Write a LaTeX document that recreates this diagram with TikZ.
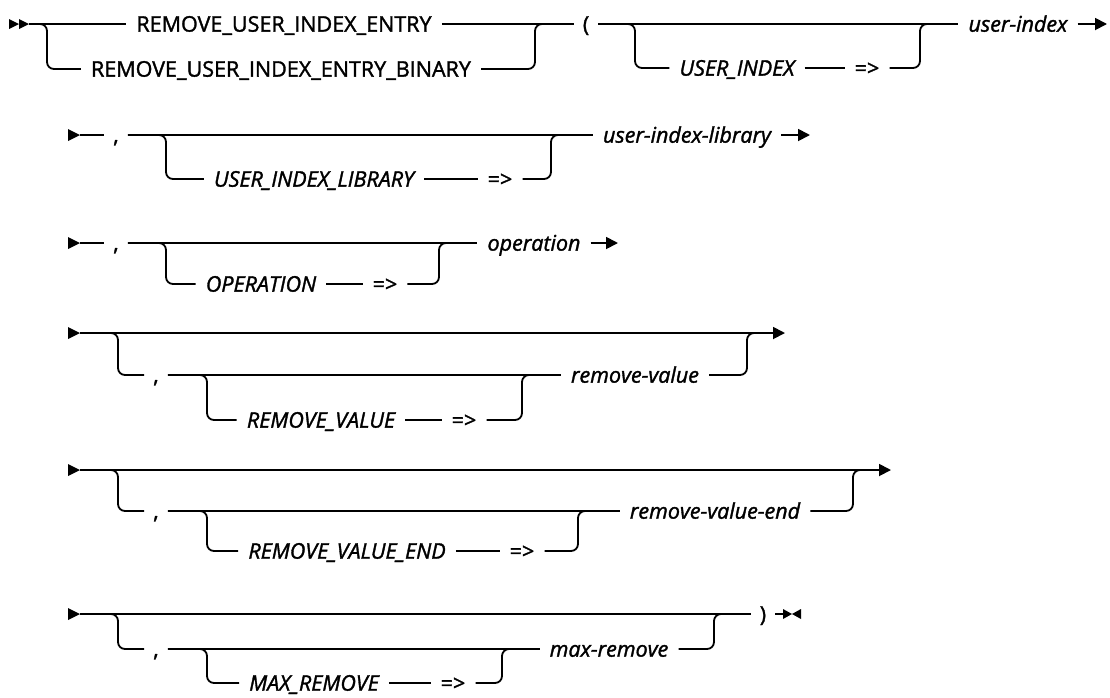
\documentclass[tikz,border=0pt]{standalone}
\usepackage{fontspec}
\setmainfont{Open Sans}[FakeBold=1.5]
\usetikzlibrary{arrows.meta}
\tikzset{
  ln/.style={line width=1.8pt, line join=round},
  rc/.style={rounded corners=7pt},
  kw/.style={inner xsep=10pt, inner ysep=0pt, text height=15.3pt, text depth=0pt,
    font=\fontsize{21.5}{25}\selectfont},
  var/.style={kw, font=\fontsize{21.5}{25}\selectfont\itshape},
  punct/.style={kw, inner xsep=9pt},
  tipr/.style={-{Triangle[length=12pt,width=12pt]}},
  mk/.style={fill=black, draw=none}
}
\begin{document}
\begin{tikzpicture}[x=1pt,y=-1pt]
\useasboundingbox (0,0) rectangle (1110,697);
% ---------- Row 1
\fill[mk] (9,19) -- (19,24) -- (9,29) -- cycle;
\fill[mk] (19,19) -- (29,24) -- (19,29) -- cycle;
\coordinate (s1) at (29,24);
\node[kw] (A) at (284,24) {REMOVE\_USER\_INDEX\_ENTRY};
\node[kw] (B) at (281,69) {REMOVE\_USER\_INDEX\_ENTRY\_BINARY};
\node[punct] (lp) at (586,24) {(};
\node[var] (UI) at (737,68) {USER\_INDEX};
\node[kw] (ar1) at (867,68) {=>};
\node[var] (ui) at (1018,24) {user-index};
\coordinate (e1) at (1107,24);
\draw[ln] (s1) -- (A);
\draw[ln,rc] (s1) -- (47,24) -- (47,69) -- (B);
\draw[ln,rc] (B) -- (535,69) -- (535,24) -- (545,24);
\draw[ln] (A) -- (lp);
\draw[ln] (lp) -- (ui);
\draw[ln,rc] (lp) -- (635,24) -- (635,68) -- (UI);
\draw[ln] (UI) -- (ar1);
\draw[ln,rc] (ar1) -- (920,68) -- (920,24) -- (931,24);
\draw[ln,tipr] (ui) -- (e1);
% ---------- Row 2
\fill[mk] (68,129) -- (80,135) -- (68,141) -- cycle;
\coordinate (s2) at (80,135);
\node[punct] (c2) at (116,135) {,};
\node[var] (UIL) at (314,179) {USER\_INDEX\_LIBRARY};
\node[kw] (ar2) at (500,179) {=>};
\node[var] (uil) at (687,135) {user-index-library};
\coordinate (e2) at (810,135);
\draw[ln] (s2) -- (c2);
\draw[ln] (c2) -- (uil);
\draw[ln,rc] (c2) -- (166,135) -- (166,179) -- (UIL);
\draw[ln] (UIL) -- (ar2);
\draw[ln,rc] (ar2) -- (551,179) -- (551,135) -- (562,135);
\draw[ln,tipr] (uil) -- (e2);
% ---------- Row 3
\fill[mk] (68,237) -- (80,243) -- (68,249) -- cycle;
\coordinate (s3) at (80,243);
\node[punct] (c3) at (116,243) {,};
\node[var] (OP) at (261,284) {OPERATION};
\node[kw] (ar3) at (385,284) {=>};
\node[var] (op) at (534,243) {operation};
\coordinate (e3) at (618,243);
\draw[ln] (s3) -- (c3);
\draw[ln] (c3) -- (op);
\draw[ln,rc] (c3) -- (166,243) -- (166,284) -- (OP);
\draw[ln] (OP) -- (ar3);
\draw[ln,rc] (ar3) -- (439,284) -- (439,243) -- (449,243);
\draw[ln,tipr] (op) -- (e3);
% ---------- Row 4
\fill[mk] (68,327) -- (80,333) -- (68,339) -- cycle;
\coordinate (s4) at (80,333);
\coordinate (e4) at (785,333);
\node[punct] (c4) at (156,375) {,};
\node[var] (RV) at (321,420) {REMOVE\_VALUE};
\node[kw] (ar4) at (464,420) {=>};
\node[var] (rv) at (635,375) {remove-value};
\draw[ln,tipr] (s4) -- (e4);
\draw[ln,rc] (s4) -- (118,333) -- (118,375) -- (c4);
\draw[ln] (c4) -- (rv);
\draw[ln,rc] (c4) -- (207,375) -- (207,420) -- (RV);
\draw[ln] (RV) -- (ar4);
\draw[ln,rc] (ar4) -- (522,420) -- (522,375) -- (532,375);
\draw[ln,rc] (rv) -- (747,375) -- (747,333) -- (757,333);
% ---------- Row 5
\fill[mk] (68,464) -- (80,470) -- (68,476) -- cycle;
\coordinate (s5) at (80,470);
\coordinate (e5) at (891,470);
\node[punct] (c5) at (156,511) {,};
\node[var] (RVE) at (347,551) {REMOVE\_VALUE\_END};
\node[kw] (ar5) at (522,551) {=>};
\node[var] (rve) at (715,511) {remove-value-end};
\draw[ln,tipr] (s5) -- (e5);
\draw[ln,rc] (s5) -- (118,470) -- (118,511) -- (c5);
\draw[ln] (c5) -- (rve);
\draw[ln,rc] (c5) -- (207,511) -- (207,551) -- (RVE);
\draw[ln] (RVE) -- (ar5);
\draw[ln,rc] (ar5) -- (578,551) -- (578,511) -- (588,511);
\draw[ln,rc] (rve) -- (853,511) -- (853,470) -- (863,470);
% ---------- Row 6
\fill[mk] (68,608) -- (80,614) -- (68,620) -- cycle;
\coordinate (s6) at (80,614);
\node[punct] (c6) at (156,649) {,};
\node[var] (MR) at (314,683) {MAX\_REMOVE};
\node[kw] (ar6) at (453,683) {=>};
\node[var] (mr) at (609,649) {max-remove};
\node[punct] (rp) at (763,614) {)};
\coordinate (m6) at (783,614);
\draw[ln] (s6) -- (rp);
\draw[ln,rc] (s6) -- (118,614) -- (118,649) -- (c6);
\draw[ln] (c6) -- (mr);
\draw[ln,rc] (c6) -- (207,649) -- (207,683) -- (MR);
\draw[ln] (MR) -- (ar6);
\draw[ln,rc] (ar6) -- (502,683) -- (502,649) -- (512,649);
\draw[ln,rc] (mr) -- (714,649) -- (714,614) -- (724,614);
\draw[ln] (rp) -- (m6);
\fill[mk] (783,609) -- (792,614) -- (783,619) -- cycle;
\fill[mk] (801,609) -- (792,614) -- (801,619) -- cycle;
\end{tikzpicture}
\end{document}
